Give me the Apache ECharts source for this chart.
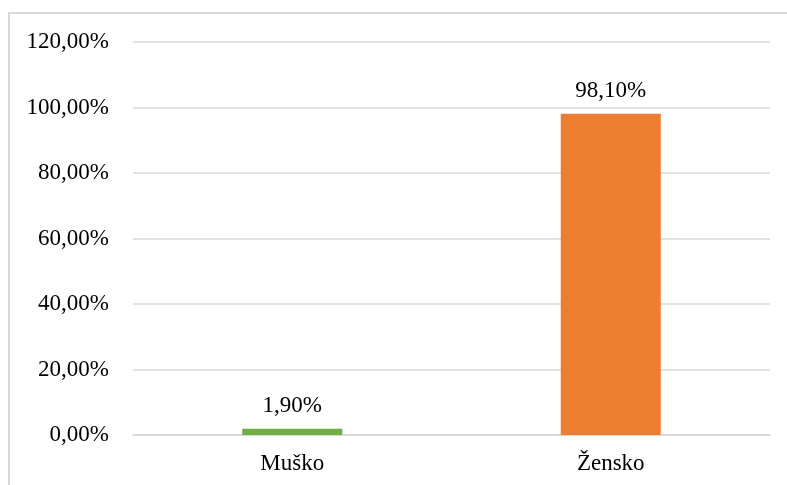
<!DOCTYPE html>
<html><head><meta charset="utf-8">
<script src="https://cdn.jsdelivr.net/npm/echarts@6/dist/echarts.min.js"></script>
<style>html,body{margin:0;padding:0;background:#fff}#c{width:787px;height:485px}</style>
</head><body><div id="c"></div>
<script>
const categories = ['Muško', 'Žensko'];
const values = [1.9, 98.1];
const colors = ['#70AD47', '#ED7D31'];
const yMin = 0, yMax = 120, yStep = 20;
const font = '"Liberation Serif", "Times New Roman", serif';
const fmt = v => v.toFixed(2).replace('.', ',') + '%';

const chart = echarts.init(document.getElementById('c'), null, {renderer: 'canvas'});
chart.setOption({
  animation: false,
  graphic: [{type: 'rect', shape: {x: 9, y: 13, width: 900, height: 600}, style: {fill: 'none', stroke: '#d9d9d9', lineWidth: 2}, silent: true}],
  grid: {left: 133, right: 17, top: 42, bottom: 50},
  xAxis: {
    type: 'category', data: categories,
    axisLine: {lineStyle: {color: '#d9d9d9', width: 1.5}},
    axisTick: {show: false},
    axisLabel: {color: '#000', fontFamily: font, fontSize: 23, margin: 17}
  },
  yAxis: {
    type: 'value', min: yMin, max: yMax, interval: yStep,
    axisLine: {show: false}, axisTick: {show: false},
    splitLine: {lineStyle: {color: '#d9d9d9', width: 1.5}},
    axisLabel: {color: '#000', fontFamily: font, fontSize: 23, margin: 24, formatter: fmt}
  },
  series: [{
    type: 'bar', barWidth: 100,
    data: values.map((v, i) => ({value: v, itemStyle: {color: colors[i]}})),
    label: {show: true, position: 'top', distance: 11, color: '#000', fontFamily: font, fontSize: 23, formatter: p => fmt(p.value)}
  }]
});
</script></body></html>
